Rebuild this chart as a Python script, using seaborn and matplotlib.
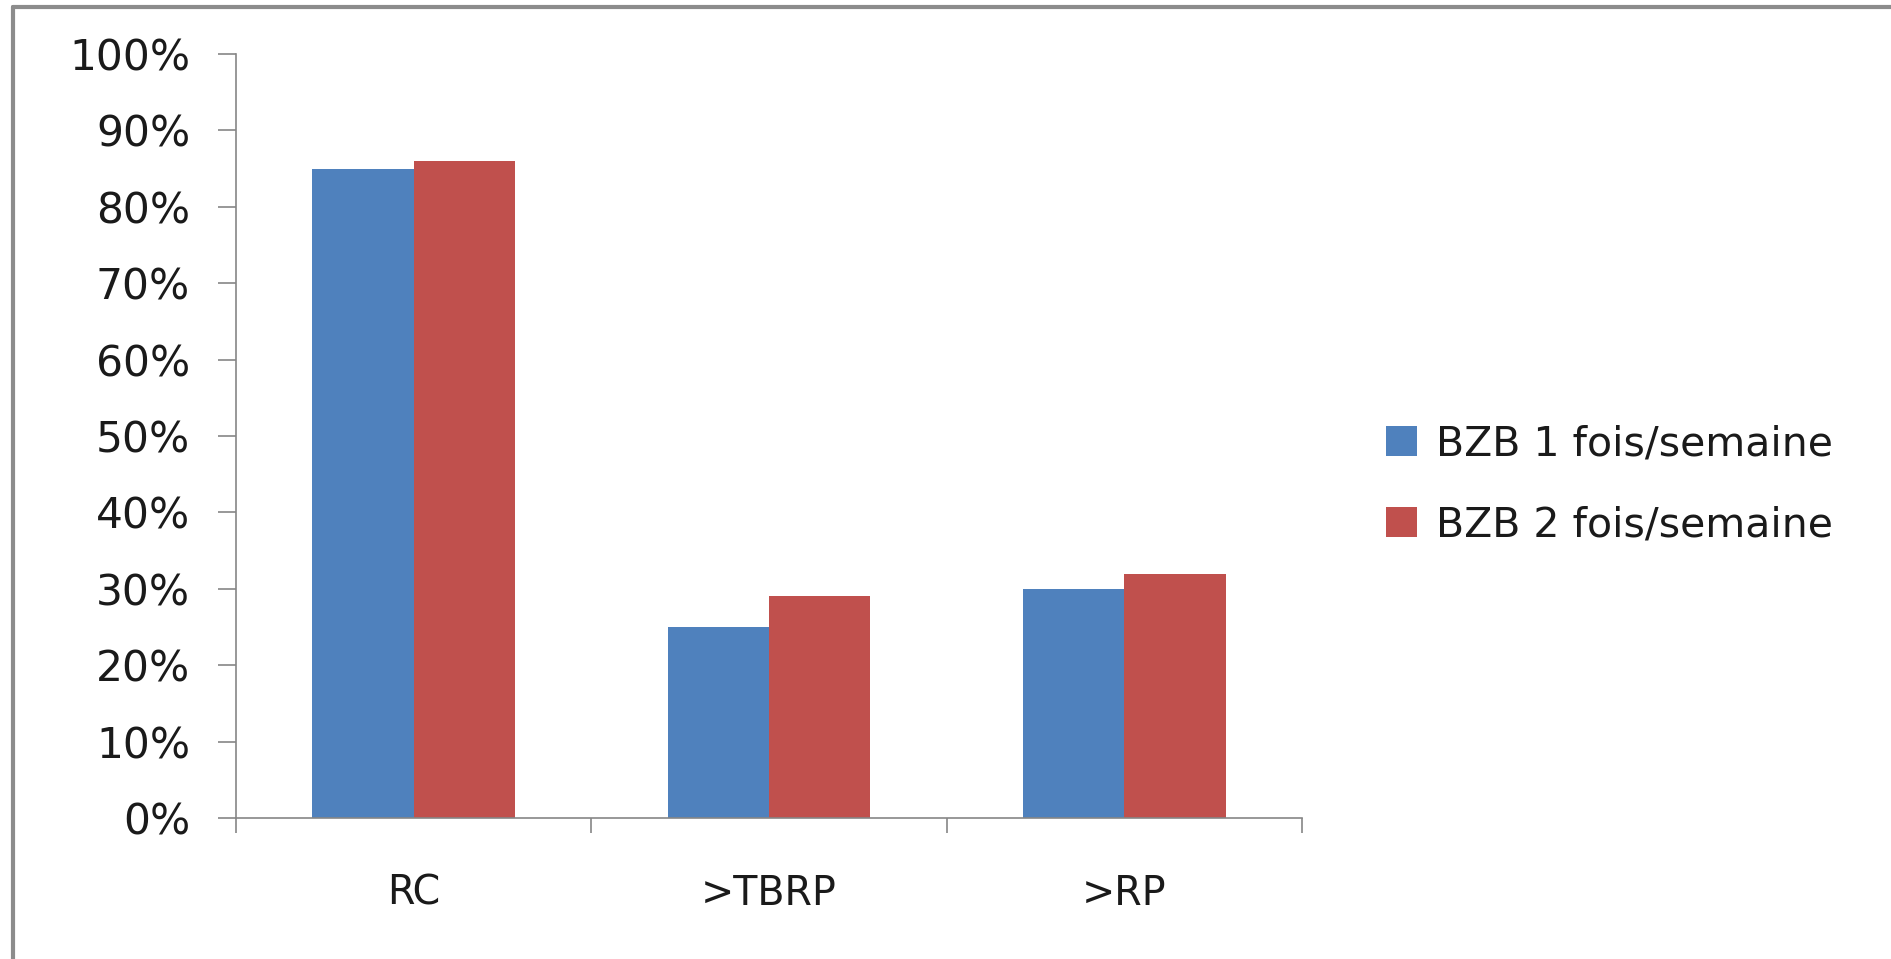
import matplotlib
matplotlib.use("Agg")
import matplotlib.pyplot as plt
from matplotlib.lines import Line2D
from matplotlib.ticker import PercentFormatter, FixedLocator, NullFormatter
import seaborn as sns
import pandas as pd

# Data
categories = ["RC", ">TBRP", ">RP"]
series_names = ["BZB 1 fois/semaine", "BZB 2 fois/semaine"]
bzb_1x = [0.85, 0.25, 0.30]
bzb_2x = [0.86, 0.29, 0.32]
y_ticks = [0.0, 0.1, 0.2, 0.3, 0.4, 0.5, 0.6, 0.7, 0.8, 0.9, 1.0]

df = pd.DataFrame({
    "categorie": categories * 2,
    "serie": [series_names[0]] * 3 + [series_names[1]] * 3,
    "valeur": bzb_1x + bzb_2x,
})

sns.set_theme(style="white")
plt.rcParams["font.family"] = ["DejaVu Sans"]

W, H = 1891, 959
fig = plt.figure(figsize=(W / 100, H / 100), dpi=100)
fig.patch.set_facecolor("white")

ax_left, ax_right = 236 / W, 1302 / W
ax_bottom, ax_top = 1 - 818 / H, 1 - 54 / H
ax = fig.add_axes([ax_left, ax_bottom, ax_right - ax_left, ax_top - ax_bottom])

palette = {series_names[0]: "#4F81BD", series_names[1]: "#C0504D"}
sns.barplot(data=df, x="categorie", y="valeur", hue="serie", order=categories,
            hue_order=series_names, palette=palette, width=0.57, gap=0,
            saturation=1, edgecolor="none", linewidth=0, ax=ax, legend=True)

ax.set_xlim(-0.5, 2.5)
ax.set_ylim(0, 1.0)
ax.set_xlabel("")
ax.set_ylabel("")

axis_color = "#868686"
for side in ["top", "right"]:
    ax.spines[side].set_visible(False)
for side in ["left", "bottom"]:
    ax.spines[side].set_color(axis_color)
    ax.spines[side].set_linewidth(1.2)

text_color = "#1a1a1a"

ax.yaxis.set_major_locator(FixedLocator(y_ticks))
ax.yaxis.set_major_formatter(PercentFormatter(1.0, decimals=0))
ax.tick_params(axis="y", which="major", direction="out", length=13, width=1.2,
               color=axis_color, labelsize=30.5, labelcolor=text_color,
               pad=20, left=True)

# category separators on the x axis
ax.xaxis.set_minor_locator(FixedLocator([-0.5, 0.5, 1.5, 2.5]))
ax.xaxis.set_minor_formatter(NullFormatter())
ax.tick_params(axis="x", which="minor", direction="out", length=11, width=1.2,
               color=axis_color, bottom=True)
ax.tick_params(axis="x", which="major", length=0, labelsize=28.5,
               labelcolor=text_color, pad=40)

# legend to the right of the plot
handles, labels = ax.get_legend_handles_labels()
ax.get_legend().remove()
fig.legend(handles, labels, loc="center left",
           bbox_to_anchor=(1370 / W, 1 - 485 / H), frameon=False,
           fontsize=29.5, handlelength=0.75, handleheight=0.75,
           handletextpad=0.45, labelspacing=1.0, borderaxespad=0,
           labelcolor=text_color)

# outer chart border (top and left edges)
frame_color = "#8c8c8c"
fig.add_artist(Line2D([13 / W, 1.0], [1 - 7 / H, 1 - 7 / H], color=frame_color,
                      linewidth=3, transform=fig.transFigure))
fig.add_artist(Line2D([13 / W, 13 / W], [0.0, 1 - 7 / H], color=frame_color,
                      linewidth=3, transform=fig.transFigure))

fig.savefig("out.png", dpi=100, facecolor="white")
